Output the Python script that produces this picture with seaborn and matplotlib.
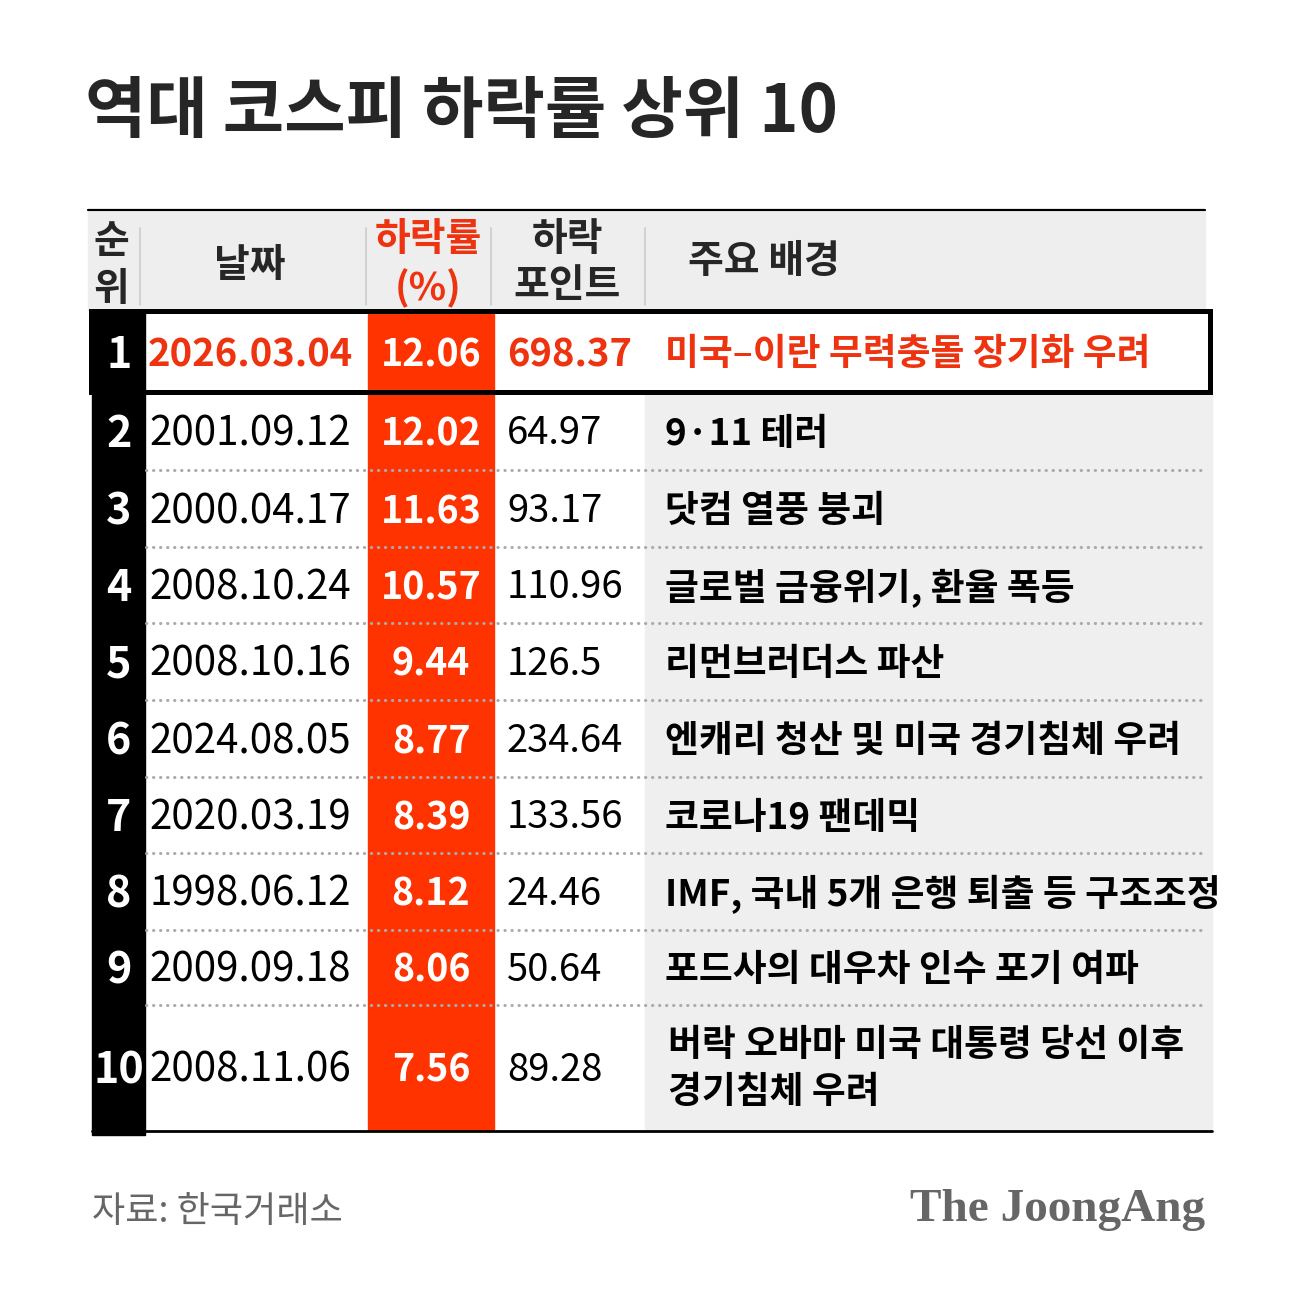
import matplotlib
matplotlib.use('Agg')
import matplotlib.pyplot as plt
import matplotlib.patches as patches
import seaborn as sns

# Table contents
ranks = [1, 2, 3, 4, 5, 6, 7, 8, 9, 10]
dates = ['2026.03.04', '2001.09.12', '2000.04.17', '2008.10.24', '2008.10.16',
         '2024.08.05', '2020.03.19', '1998.06.12', '2009.09.18', '2008.11.06']
drop_pct = ['12.06', '12.02', '11.63', '10.57', '9.44',
            '8.77', '8.39', '8.12', '8.06', '7.56']
drop_pts = ['698.37', '64.97', '93.17', '110.96', '126.5',
            '234.64', '133.56', '24.46', '50.64', '89.28']
reasons = ['미국–이란 무력충돌 장기화 우려',
           '9·11 테러',
           '닷컴 열풍 붕괴',
           '글로벌 금융위기, 환율 폭등',
           '리먼브러더스 파산',
           '엔캐리 청산 및 미국 경기침체 우려',
           '코로나19 팬데믹',
           'IMF, 국내 5개 은행 퇴출 등 구조조정',
           '포드사의 대우차 인수 포기 여파',
           '버락 오바마 미국 대통령 당선 이후\n경기침체 우려']

title = '역대 코스피 하락률 상위 10'
source = '자료: 한국거래소'
logo = 'The JoongAng'

sns.set_theme(style='white')
plt.rcParams['font.family'] = ['Noto Sans CJK KR', 'DejaVu Sans']

RED = '#ff3300'
RED_TXT = '#ee3311'
GRAY_BG = '#eeeeee'

fig = plt.figure(figsize=(12.91, 12.91), dpi=100)
ax = fig.add_axes([0, 0, 1, 1])
ax.set_xlim(0, 1291)
ax.set_ylim(1291, 0)
ax.axis('off')

# row edges (pixels)
edges = [312, 392, 470, 547, 623, 700, 777, 853, 930, 1005, 1130]
centers = [(edges[i] + edges[i + 1]) / 2 for i in range(len(ranks))]

# title
ax.text(85, 112, title, fontsize=48, fontweight='bold', va='center', ha='left')

# header
ax.add_patch(patches.Rectangle((88, 212), 1117, 98, color=GRAY_BG, zorder=1))
ax.plot([88, 1205], [210, 210], color='black', lw=1.6, zorder=3)
for sx in [140, 366, 491, 645]:
    ax.plot([sx, sx], [228, 305], color='#cccccc', lw=1.2, zorder=2)

hkw = dict(fontsize=28, fontweight='bold', va='center')
ax.text(111, 242, '순', ha='center', **hkw)
ax.text(111, 290, '위', ha='center', **hkw)
ax.text(250, 265, '날짜', ha='center', **hkw)
ax.text(428, 240, '하락률', ha='center', color=RED_TXT, **hkw)
ax.text(428, 288, '(%)', ha='center', color=RED_TXT, **hkw)
ax.text(567, 240, '하락', ha='center', **hkw)
ax.text(567, 286, '포인트', ha='center', **hkw)
ax.text(688, 262, '주요 배경', ha='left', **hkw)

# column backgrounds
ax.add_patch(patches.Rectangle((92, 312), 53, 823, color='black', zorder=2))
ax.add_patch(patches.Rectangle((368, 314), 126, 816, color=RED, zorder=2))
ax.add_patch(patches.Rectangle((645, 394), 567, 735, color='#efefef', zorder=1))

# separators
for y in edges[2:-1]:
    ax.plot([146, 1207], [y, y], color='#aaaaaa', lw=2.2,
            linestyle=(0, (0.1, 2.2)), dash_capstyle='round', zorder=4)
ax.plot([92, 1212], [1131, 1131], color='black', lw=2, zorder=5)

# highlight box for row 1
ax.add_patch(patches.Rectangle((91, 311), 1119, 81, fill=False,
                               edgecolor='black', lw=3.6, zorder=6))

for i, r in enumerate(ranks):
    yc = centers[i] + 3
    first = (i == 0)
    txt_col = RED_TXT if first else 'black'
    ax.text(119, yc, str(r), fontsize=31, fontweight='bold', color='white',
            ha='center', va='center', zorder=7)
    ax.text(250, yc, dates[i], fontsize=27.5 if first else 29, color=txt_col,
            fontweight='bold' if first else 'normal',
            ha='center', va='center', zorder=7)
    ax.text(431, yc, drop_pct[i], fontsize=27, fontweight='bold', color='white',
            ha='center', va='center', zorder=7)
    ax.text(507, yc, drop_pts[i], fontsize=27.5, color=txt_col,
            fontweight='bold' if first else 'normal',
            ha='left', va='center', zorder=7)
    lines = reasons[i].split('\n')
    if len(lines) == 1:
        ax.text(665, yc, lines[0], fontsize=26.5, fontweight='bold', color=txt_col,
                ha='left', va='center', zorder=7)
    else:
        ax.text(668, yc - 25, lines[0], fontsize=26.5, fontweight='bold', color=txt_col,
                ha='left', va='center', zorder=7)
        ax.text(668, yc + 22, lines[1], fontsize=26.5, fontweight='bold', color=txt_col,
                ha='left', va='center', zorder=7)

# footer
ax.text(92, 1212, source, fontsize=26, color='#666666', ha='left', va='center')
ax.text(1205, 1210, logo, fontsize=34, color='#666666', fontweight='bold',
        family=['Liberation Serif', 'DejaVu Serif'], ha='right', va='center')

fig.savefig('out.png', dpi=100, facecolor='white')
